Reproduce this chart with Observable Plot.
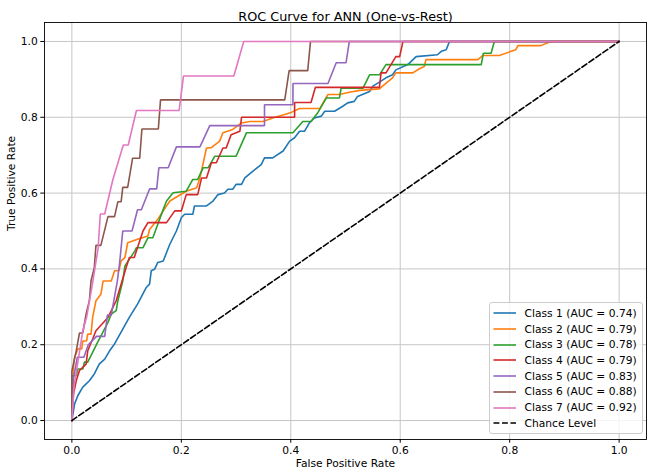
<!DOCTYPE html>
<html>
<head>
<meta charset="utf-8">
<script src="https://cdn.jsdelivr.net/npm/d3@7"></script>
<script src="https://cdn.jsdelivr.net/npm/@observablehq/plot@0.6"></script>
<style>
  body { margin: 0; background: #fff; font-family: "DejaVu Sans", sans-serif; }
  #wrap { position: relative; width: 650px; height: 475px; }
  #legend {
    position: absolute; left: 489px; top: 302px; width: 154px; height: 132px;
    box-sizing: border-box; border: 1px solid #cccccc; border-radius: 3px;
    background: rgba(255,255,255,0.8); font-size: 10.7px; color: #000;
  }
  .row { position: absolute; left: 3px; height: 16px; display: flex; align-items: center; white-space: nowrap; }
  .row svg { margin-right: 8px; }
</style>
</head>
<body>
<div id="wrap"></div>
<script>
// ROC curves (false positive rate, true positive rate) per class, one-vs-rest
const class1 = [[0,0],[0.005,0.044],[0.011,0.066],[0.02,0.088],[0.032,0.105],[0.041,0.123],[0.05,0.149],[0.06,0.162],[0.069,0.184],[0.078,0.202],[0.093,0.241],[0.105,0.272],[0.12,0.307],[0.136,0.351],[0.142,0.36],[0.145,0.395],[0.151,0.399],[0.157,0.417],[0.167,0.421],[0.179,0.465],[0.191,0.5],[0.2,0.535],[0.206,0.544],[0.221,0.544],[0.224,0.566],[0.246,0.566],[0.258,0.579],[0.267,0.596],[0.279,0.6],[0.285,0.61],[0.294,0.61],[0.3,0.623],[0.31,0.623],[0.316,0.64],[0.331,0.658],[0.346,0.675],[0.352,0.693],[0.367,0.693],[0.386,0.711],[0.398,0.737],[0.407,0.746],[0.416,0.763],[0.425,0.763],[0.434,0.785],[0.443,0.798],[0.456,0.803],[0.462,0.816],[0.48,0.816],[0.495,0.829],[0.504,0.838],[0.516,0.842],[0.522,0.855],[0.544,0.868],[0.55,0.882],[0.559,0.89],[0.574,0.904],[0.586,0.912],[0.592,0.925],[0.614,0.939],[0.629,0.96],[0.668,0.965],[0.675,0.974],[0.684,0.978],[0.69,1],[1,1]];
const class2 = [[0,0],[0.003,0.14],[0.005,0.167],[0.011,0.189],[0.018,0.189],[0.02,0.21],[0.027,0.21],[0.029,0.228],[0.035,0.228],[0.038,0.272],[0.044,0.316],[0.053,0.333],[0.057,0.368],[0.072,0.368],[0.078,0.395],[0.086,0.395],[0.09,0.421],[0.097,0.43],[0.102,0.469],[0.12,0.478],[0.139,0.487],[0.142,0.504],[0.157,0.531],[0.167,0.553],[0.179,0.579],[0.209,0.605],[0.228,0.614],[0.234,0.64],[0.246,0.719],[0.255,0.72],[0.27,0.737],[0.276,0.759],[0.294,0.768],[0.31,0.785],[0.325,0.789],[0.349,0.789],[0.367,0.798],[0.398,0.811],[0.416,0.823],[0.453,0.823],[0.468,0.86],[0.489,0.86],[0.507,0.866],[0.526,0.871],[0.562,0.875],[0.571,0.886],[0.586,0.904],[0.592,0.917],[0.623,0.917],[0.635,0.928],[0.644,0.934],[0.647,0.952],[0.742,0.952],[0.751,0.963],[0.781,0.963],[0.811,0.978],[0.815,0.989],[0.857,0.989],[0.875,1],[1,1]];
const class3 = [[0,0],[0,0.118],[0.008,0.118],[0.011,0.136],[0.02,0.136],[0.023,0.154],[0.029,0.154],[0.047,0.206],[0.066,0.259],[0.072,0.281],[0.081,0.29],[0.084,0.316],[0.093,0.368],[0.097,0.408],[0.115,0.447],[0.118,0.456],[0.13,0.456],[0.139,0.482],[0.148,0.482],[0.157,0.518],[0.167,0.557],[0.173,0.579],[0.185,0.601],[0.209,0.605],[0.221,0.636],[0.23,0.636],[0.24,0.667],[0.249,0.667],[0.261,0.697],[0.3,0.697],[0.319,0.759],[0.404,0.759],[0.422,0.789],[0.437,0.789],[0.449,0.811],[0.465,0.851],[0.489,0.851],[0.492,0.877],[0.532,0.877],[0.544,0.912],[0.562,0.912],[0.574,0.939],[0.748,0.939],[0.752,0.969],[0.766,0.969],[0.772,1],[1,1]];
const class4 = [[0,0],[0.003,0.07],[0.008,0.105],[0.014,0.132],[0.026,0.149],[0.029,0.184],[0.038,0.215],[0.044,0.237],[0.066,0.272],[0.081,0.316],[0.099,0.403],[0.105,0.43],[0.114,0.43],[0.13,0.5],[0.139,0.522],[0.173,0.522],[0.188,0.553],[0.2,0.553],[0.209,0.596],[0.23,0.596],[0.237,0.64],[0.246,0.64],[0.255,0.68],[0.264,0.68],[0.276,0.719],[0.282,0.719],[0.291,0.754],[0.307,0.763],[0.31,0.8],[0.407,0.8],[0.407,0.839],[0.437,0.839],[0.445,0.879],[0.562,0.879],[0.565,0.917],[0.574,0.917],[0.592,0.96],[0.599,0.96],[0.605,1],[1,1]];
const class5 = [[0,0],[0.003,0.111],[0.01,0.167],[0.022,0.167],[0.03,0.2],[0.045,0.222],[0.06,0.222],[0.065,0.278],[0.072,0.278],[0.083,0.367],[0.087,0.412],[0.093,0.5],[0.11,0.5],[0.12,0.556],[0.127,0.556],[0.142,0.611],[0.155,0.611],[0.159,0.667],[0.176,0.667],[0.191,0.722],[0.234,0.722],[0.252,0.778],[0.352,0.778],[0.352,0.833],[0.404,0.833],[0.404,0.889],[0.468,0.889],[0.483,0.944],[0.501,0.944],[0.507,1],[1,1]];
const class6 = [[0,0],[0,0.13],[0.008,0.184],[0.014,0.231],[0.02,0.231],[0.026,0.281],[0.032,0.316],[0.035,0.368],[0.041,0.403],[0.044,0.462],[0.053,0.462],[0.066,0.538],[0.078,0.538],[0.084,0.577],[0.09,0.577],[0.093,0.615],[0.102,0.615],[0.111,0.692],[0.124,0.692],[0.128,0.769],[0.158,0.769],[0.162,0.846],[0.389,0.846],[0.397,0.923],[0.431,0.923],[0.436,1],[1,1]];
const class7 = [[0,0],[0.004,0.091],[0.014,0.182],[0.02,0.237],[0.027,0.273],[0.038,0.364],[0.048,0.455],[0.052,0.545],[0.06,0.545],[0.075,0.636],[0.094,0.727],[0.103,0.727],[0.118,0.818],[0.196,0.818],[0.204,0.909],[0.296,0.909],[0.314,1],[1,1]];

const classNames = ["Class 1", "Class 2", "Class 3", "Class 4", "Class 5", "Class 6", "Class 7"];
const aucValues = ["0.74", "0.79", "0.78", "0.79", "0.83", "0.88", "0.92"];
const classColors = ["#1f77b4", "#ff7f0e", "#2ca02c", "#d62728", "#9467bd", "#8c564b", "#e377c2"];

const chanceFpr = [0, 1];
const chanceTpr = [0, 1];

const xTicks = [0, 0.2, 0.4, 0.6, 0.8, 1.0];
const xTickLabels = ["0.0", "0.2", "0.4", "0.6", "0.8", "1.0"];
const yTicks = [0, 0.2, 0.4, 0.6, 0.8, 1.0];
const yTickLabels = ["0.0", "0.2", "0.4", "0.6", "0.8", "1.0"];

const titleText = "ROC Curve for ANN (One-vs-Rest)";
const xLabel = "False Positive Rate";
const yLabel = "True Positive Rate";
const chanceLabel = "Chance Level";

// long table of points for all curves
const curves = [class1, class2, class3, class4, class5, class6, class7];
const rows = curves.flatMap((pts, i) => pts.map(([fpr, tpr]) => ({fpr, tpr, cls: classNames[i]})));
const chance = chanceFpr.map((f, i) => ({fpr: f, tpr: chanceTpr[i]}));

const chart = Plot.plot({
  width: 650,
  height: 475,
  marginLeft: 44,
  marginRight: 4,
  marginTop: 22,
  marginBottom: 36,
  style: {fontFamily: "DejaVu Sans, sans-serif", fontSize: "10.7px", background: "#fff", color: "#000"},
  x: {domain: [-0.05, 1.05], label: null},
  y: {domain: [-0.05, 1.05], label: null},
  color: {domain: classNames, range: classColors},
  marks: [
    Plot.gridX(xTicks, {stroke: "#c6c6c6", strokeOpacity: 1, strokeWidth: 1}),
    Plot.gridY(yTicks, {stroke: "#c6c6c6", strokeOpacity: 1, strokeWidth: 1}),
    Plot.line(rows, {x: "fpr", y: "tpr", stroke: "cls", strokeWidth: 1.6, strokeLinejoin: "miter", strokeLinecap: "square"}),
    Plot.line(chance, {x: "fpr", y: "tpr", stroke: "black", strokeWidth: 1.6, strokeDasharray: "5.9,2.6"}),
    Plot.frame({stroke: "black", strokeWidth: 0.9}),
    Plot.axisX({ticks: xTicks, tickFormat: d => xTickLabels[xTicks.indexOf(d)], tickSize: 3.7, tickPadding: 3, label: null}),
    Plot.axisY({ticks: yTicks, tickFormat: d => yTickLabels[yTicks.indexOf(d)], tickSize: 3.7, tickPadding: 3, label: null}),
    Plot.text([titleText], {frameAnchor: "top", dy: -11, fontSize: 12.8}),
    Plot.text([xLabel], {frameAnchor: "bottom", dy: 27, fontSize: 10.7}),
    Plot.text([yLabel], {frameAnchor: "left", dx: -33, rotate: -90, fontSize: 10.7})
  ]
});

const wrap = document.getElementById("wrap");
wrap.appendChild(chart);

// legend box in the lower right corner of the axes
const legend = document.createElement("div");
legend.id = "legend";
const entries = classNames.map((n, i) => ({text: `${n} (AUC = ${aucValues[i]})`, color: classColors[i], dash: null}));
entries.push({text: chanceLabel, color: "#000", dash: "5.9,2.6"});
entries.forEach((e, i) => {
  const row = document.createElement("div");
  row.className = "row";
  row.style.top = (2.3 + i * 15.7) + "px";
  const sw = d3.create("svg").attr("width", 23.5).attr("height", 16);
  sw.append("line").attr("x1", 0.5).attr("x2", 23).attr("y1", 8).attr("y2", 8)
    .attr("stroke", e.color).attr("stroke-width", 1.6)
    .attr("stroke-dasharray", e.dash);
  row.appendChild(sw.node());
  const span = document.createElement("span");
  span.textContent = e.text;
  row.appendChild(span);
  legend.appendChild(row);
});
wrap.appendChild(legend);
</script>
</body>
</html>
